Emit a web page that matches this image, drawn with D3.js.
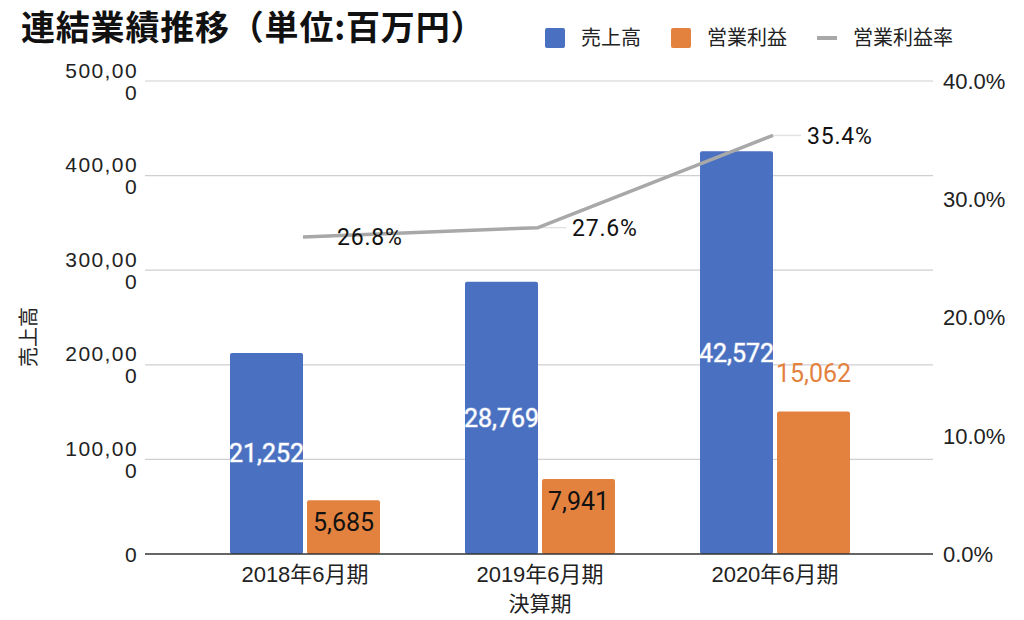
<!DOCTYPE html>
<html>
<head>
<meta charset="utf-8">
<script src="https://cdn.jsdelivr.net/npm/d3@7"></script>
<style>
  html, body { margin: 0; padding: 0; background: #fff; }
  svg { display: block; }
</style>
</head>
<body>
<svg id="chart" width="1024" height="620"></svg>
<script>
const title = "連結業績推移（単位:百万円）";
const categories = ["2018年6月期", "2019年6月期", "2020年6月期"];
const seriesNames = ["売上高", "営業利益", "営業利益率"];
const sales = [212520, 287690, 425720];
const profit = [56850, 79410, 150620];
const salesLabels = ["21,252", "28,769", "42,572"];
const profitLabels = ["5,685", "7,941", "15,062"];
const margin = [0.268, 0.276, 0.354];
const leftTicks = [0, 100000, 200000, 300000, 400000, 500000];
const rightTicks = [0, 0.1, 0.2, 0.3, 0.4];
const xAxisTitle = "決算期";
const yAxisTitle = "売上高";

const colors = { sales: "#4a70c1", profit: "#e3823f", margin: "#a8a8a8" };
const latin = "'Liberation Sans', Arial, 'Noto Sans CJK JP', sans-serif";
const cjk = "'Noto Sans CJK JP', 'Noto Sans', sans-serif";
const roboto = "Roboto, 'Noto Sans', sans-serif";

const svg = d3.select("#chart");
svg.append("rect").attr("width", 1024).attr("height", 620).attr("fill", "#fff");

const plotLeft = 145, plotRight = 933, yBottom = 554, yTop = 81;

const yL = d3.scaleLinear().domain([0, 500000]).range([yBottom, yTop]);
const yR = d3.scaleLinear().domain([0, 0.4]).range([yBottom, yTop]);

const x0 = d3.scaleBand().domain(categories).range([187.5, 892.5])
  .paddingInner(85 / 235).paddingOuter(85 / 470);
const x1 = d3.scaleBand().domain(["sales", "profit"]).range([0, x0.bandwidth()])
  .paddingInner(4 / 77).paddingOuter(0);
const cx = c => x0(c) + x0.bandwidth() / 2;

// gridlines
svg.append("g").selectAll("line").data(leftTicks.filter(d => d > 0)).join("line")
  .attr("x1", plotLeft).attr("x2", plotRight)
  .attr("y1", d => yL(d)).attr("y2", d => yL(d))
  .attr("stroke", "#cfcfcf").attr("stroke-width", 1.2);

// left tick labels (wrapped like the original)
const fmt = d3.format(",");
const lt = svg.append("g");
leftTicks.forEach(v => {
  const s = fmt(v);
  const lines = s.length > 6 ? [s.slice(0, 6), s.slice(6)] : [s];
  const y = yL(v);
  lines.forEach((ln, i) => {
    const yc = lines.length === 1 ? y : y - 11 + i * 22;
    lt.append("text").attr("x", 138).attr("y", yc).attr("dy", "0.36em")
      .attr("text-anchor", "end").attr("font-family", latin).attr("font-size", 21)
      .attr("letter-spacing", "1.4px")
      .attr("fill", "#222").text(ln);
  });
});

// right tick labels
const fmtP = d3.format(".1%");
svg.append("g").selectAll("text").data(rightTicks).join("text")
  .attr("x", 943).attr("y", d => yR(d)).attr("dy", "0.36em")
  .attr("font-family", latin).attr("font-size", 22).attr("fill", "#222")
  .text(d => fmtP(d));

// bars
const groups = svg.append("g").selectAll("g").data(categories).join("g")
  .attr("transform", d => `translate(${x0(d)},0)`);
groups.append("rect")
  .attr("x", x1("sales")).attr("width", x1.bandwidth())
  .attr("y", (d, i) => yL(sales[i])).attr("height", (d, i) => yBottom - yL(sales[i]))
  .attr("rx", 2).attr("fill", colors.sales);
groups.append("rect")
  .attr("x", x1("profit")).attr("width", x1.bandwidth())
  .attr("y", (d, i) => yL(profit[i])).attr("height", (d, i) => yBottom - yL(profit[i]))
  .attr("rx", 2).attr("fill", colors.profit);

// baseline
svg.append("line").attr("x1", plotLeft).attr("x2", plotRight)
  .attr("y1", yBottom).attr("y2", yBottom).attr("stroke", "#333").attr("stroke-width", 1.6);

// bar labels
groups.append("text")
  .attr("x", x1("sales") + x1.bandwidth() / 2)
  .attr("y", (d, i) => (yL(sales[i]) + yBottom) / 2).attr("dy", "0.36em")
  .attr("text-anchor", "middle").attr("font-family", roboto).attr("font-size", 25)
  .attr("fill", "#fff").attr("stroke", "rgba(255,255,255,0.45)").attr("stroke-width", 1.2)
  .text((d, i) => salesLabels[i]);
groups.append("text")
  .attr("x", x1("profit") + x1.bandwidth() / 2)
  .attr("y", (d, i) => i === categories.length - 1 ? yL(profit[i]) - 39 : yL(profit[i]) + 22)
  .attr("dy", "0.36em")
  .attr("text-anchor", "middle").attr("font-family", roboto).attr("font-size", 25)
  .attr("fill", (d, i) => i === categories.length - 1 ? colors.profit : "#111")
  .text((d, i) => profitLabels[i]);

// margin line
const pts = categories.map((c, i) => [cx(c) - 2, yR(margin[i])]);
// leader lines
svg.append("g").selectAll("line").data(pts).join("line")
  .attr("x1", d => d[0]).attr("x2", d => d[0] + 28)
  .attr("y1", d => d[1]).attr("y2", d => d[1])
  .attr("stroke", "#e2e2e2").attr("stroke-width", 1.5);
svg.append("path").datum(pts)
  .attr("d", d3.line())
  .attr("fill", "none").attr("stroke", colors.margin).attr("stroke-width", 3.5)
  .attr("stroke-linejoin", "round");
svg.append("g").selectAll("text").data(pts).join("text")
  .attr("x", d => d[0] + 34).attr("y", d => d[1]).attr("dy", "0.36em")
  .attr("font-family", roboto).attr("font-size", 23).attr("letter-spacing", "0.8px")
  .attr("fill", "#111")
  .text((d, i) => fmtP(margin[i]));

// x axis labels
svg.append("g").selectAll("text").data(categories).join("text")
  .attr("x", d => cx(d)).attr("y", 574).attr("dy", "0.36em")
  .attr("text-anchor", "middle").attr("font-family", latin).attr("font-size", 22)
  .attr("fill", "#222").text(d => d);
svg.append("text").attr("x", 540).attr("y", 603).attr("dy", "0.38em")
  .attr("text-anchor", "middle").attr("font-family", cjk).attr("font-size", 21)
  .attr("fill", "#222").text(xAxisTitle);

// y axis title
svg.append("text").attr("transform", "translate(28,337) rotate(-90)")
  .attr("dy", "0.38em").attr("text-anchor", "middle")
  .attr("font-family", cjk).attr("font-size", 20).attr("fill", "#222").text(yAxisTitle);

// title
svg.append("text").attr("x", 21).attr("y", 40)
  .attr("font-family", cjk).attr("font-weight", 700).attr("font-size", 34)
  .attr("letter-spacing", "0.8px")
  .attr("fill", "#111").text(title);

// legend
const legendX = [545, 671, 817];
const legendTextX = [581, 707, 853];
const lg = svg.append("g");
seriesNames.forEach((name, i) => {
  if (i < 2) {
    lg.append("rect").attr("x", legendX[i]).attr("y", 28).attr("width", 20).attr("height", 20)
      .attr("rx", 2).attr("fill", i === 0 ? colors.sales : colors.profit);
  } else {
    lg.append("rect").attr("x", legendX[i]).attr("y", 36).attr("width", 20).attr("height", 4)
      .attr("fill", colors.margin);
  }
  lg.append("text").attr("x", legendTextX[i]).attr("y", 37).attr("dy", "0.38em")
    .attr("font-family", cjk).attr("font-size", 20).attr("fill", "#222").text(name);
});
</script>
</body>
</html>
